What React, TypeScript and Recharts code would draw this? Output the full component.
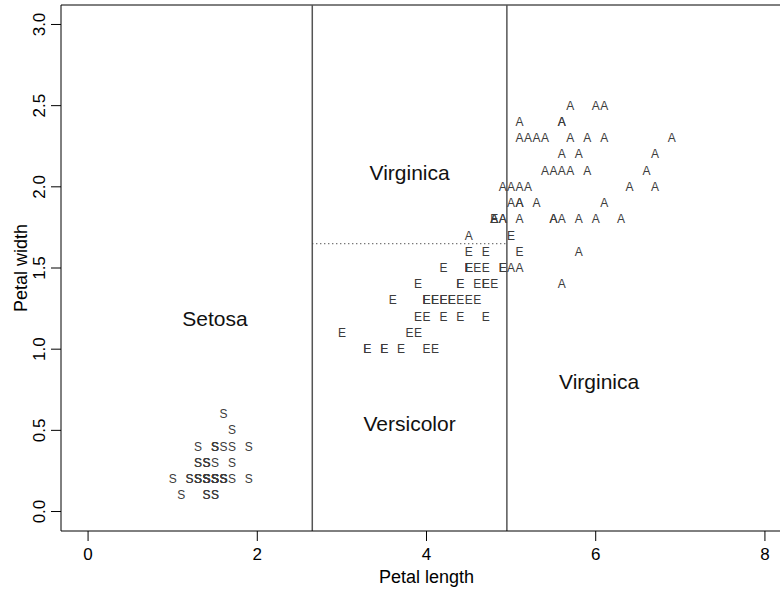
import React from 'react';
import { ScatterChart, Scatter, XAxis, YAxis, ReferenceLine } from 'recharts';

// iris petal measurements, read per species
const setosaLength = [1.4, 1.4, 1.3, 1.5, 1.4, 1.7, 1.4, 1.5, 1.4, 1.5, 1.5, 1.6, 1.4, 1.1, 1.2, 1.5, 1.3, 1.4, 1.7, 1.5, 1.7, 1.5, 1.0, 1.7, 1.9, 1.6, 1.6, 1.5, 1.4, 1.6, 1.6, 1.5, 1.5, 1.4, 1.5, 1.2, 1.3, 1.4, 1.3, 1.5, 1.3, 1.3, 1.3, 1.6, 1.9, 1.4, 1.6, 1.4, 1.5, 1.4];
const setosaWidth = [0.2, 0.2, 0.2, 0.2, 0.2, 0.4, 0.3, 0.2, 0.2, 0.1, 0.2, 0.2, 0.1, 0.1, 0.2, 0.4, 0.4, 0.3, 0.3, 0.3, 0.2, 0.4, 0.2, 0.5, 0.2, 0.2, 0.4, 0.2, 0.2, 0.2, 0.2, 0.4, 0.1, 0.2, 0.2, 0.2, 0.2, 0.1, 0.2, 0.2, 0.3, 0.3, 0.2, 0.6, 0.4, 0.3, 0.2, 0.2, 0.2, 0.2];

const versicolorLength = [4.7, 4.5, 4.9, 4.0, 4.6, 4.5, 4.7, 3.3, 4.6, 3.9, 3.5, 4.2, 4.0, 4.7, 3.6, 4.4, 4.5, 4.1, 4.5, 3.9, 4.8, 4.0, 4.9, 4.7, 4.3, 4.4, 4.8, 5.0, 4.5, 3.5, 3.8, 3.7, 3.9, 5.1, 4.5, 4.5, 4.7, 4.4, 4.1, 4.0, 4.4, 4.6, 4.0, 3.3, 4.2, 4.2, 4.2, 4.3, 3.0, 4.1];
const versicolorWidth = [1.4, 1.5, 1.5, 1.3, 1.5, 1.3, 1.6, 1.0, 1.3, 1.4, 1.0, 1.5, 1.0, 1.4, 1.3, 1.4, 1.5, 1.0, 1.5, 1.1, 1.8, 1.3, 1.5, 1.2, 1.3, 1.4, 1.4, 1.7, 1.5, 1.0, 1.1, 1.0, 1.2, 1.6, 1.5, 1.6, 1.5, 1.3, 1.3, 1.3, 1.2, 1.4, 1.2, 1.0, 1.3, 1.2, 1.3, 1.3, 1.1, 1.3];

const virginicaLength = [6.0, 5.1, 5.9, 5.6, 5.8, 6.6, 4.5, 6.3, 5.8, 6.1, 5.1, 5.3, 5.5, 5.0, 5.1, 5.3, 5.5, 6.7, 6.9, 5.0, 5.7, 4.9, 6.7, 4.9, 5.7, 6.0, 4.8, 4.9, 5.6, 5.8, 6.1, 6.4, 5.6, 5.1, 5.6, 6.1, 5.6, 5.5, 4.8, 5.4, 5.6, 5.1, 5.1, 5.9, 5.7, 5.2, 5.0, 5.2, 5.4, 5.1];
const virginicaWidth = [2.5, 1.9, 2.1, 1.8, 2.2, 2.1, 1.7, 1.8, 1.8, 2.5, 2.0, 1.9, 2.1, 2.0, 2.4, 2.3, 1.8, 2.2, 2.3, 1.5, 2.3, 2.0, 2.0, 1.8, 2.1, 1.8, 1.8, 1.8, 2.1, 1.6, 1.9, 2.0, 2.2, 1.5, 1.4, 2.3, 2.4, 1.8, 1.8, 2.1, 2.4, 2.3, 1.9, 2.3, 2.5, 2.3, 1.9, 2.0, 2.3, 1.8];

// partition boundaries and region names
const lengthSplits = [2.65, 4.95];
const widthSplit = 1.65;
const regionNames = ['Setosa', 'Versicolor', 'Virginica', 'Virginica'];
const regionX = [1.5, 3.8, 3.8, 6.04];
const regionY = [1.19, 0.54, 2.09, 0.8];

const xTicks = [0, 2, 4, 6, 8];
const yTicks = [0, 0.5, 1, 1.5, 2, 2.5, 3];

const FONT = '"Liberation Sans", Arial, Helvetica, sans-serif';

const zip = (xs: number[], ys: number[]) => xs.map((x, i) => ({ x, y: ys[i] }));
const setosa = zip(setosaLength, setosaWidth);
const versicolor = zip(versicolorLength, versicolorWidth);
const virginica = zip(virginicaLength, virginicaWidth);
const regions = regionNames.map((name, i) => ({ x: regionX[i], y: regionY[i], name }));

const letter = (ch: string) => (props: any) => (
  <text
    x={props.cx}
    y={props.cy}
    textAnchor="middle"
    dominantBaseline="central"
    fontSize={12}
    fontFamily={FONT}
    fill="#3c3c3c"
  >
    {ch}
  </text>
);

const regionShape = (props: any) => (
  <text
    x={props.cx}
    y={props.cy}
    textAnchor="middle"
    dominantBaseline="central"
    fontSize={21}
    fontFamily={FONT}
    fill="#111"
  >
    {props.payload.name}
  </text>
);

const YTick = (props: any) => {
  const { x, y, payload } = props;
  return (
    <text
      x={x}
      y={y}
      transform={`rotate(-90 ${x} ${y})`}
      textAnchor="middle"
      fontSize={17}
      fontFamily={FONT}
      fill="#000"
    >
      {Number(payload.value).toFixed(1)}
    </text>
  );
};

export default function App() {
  return (
    <div style={{ width: 780, height: 590, overflow: 'hidden', background: '#fff' }}>
      <style>{'body{margin:0}'}</style>
      <ScatterChart width={800} height={590} margin={{ top: 5, right: 8, bottom: 0, left: 0 }}>
        <XAxis
          type="number"
          dataKey="x"
          domain={[-0.32, 8.32]}
          ticks={xTicks}
          allowDataOverflow
          height={59}
          tickSize={10}
          tickMargin={7}
          stroke="#000"
          tick={{ fontSize: 17, fontFamily: FONT, fill: '#000' }}
          label={{
            content: (p: any) => {
              const vb = p.viewBox || { x: 61, y: 531, width: 731 };
              return (
                <text x={vb.x + vb.width / 2} y={vb.y + 52} textAnchor="middle" fontSize={18} fontFamily={FONT} fill="#000">
                  Petal length
                </text>
              );
            },
          }}
        />
        <YAxis
          type="number"
          dataKey="y"
          domain={[-0.12, 3.12]}
          ticks={yTicks}
          allowDataOverflow
          width={61}
          tickSize={10}
          tickMargin={6}
          stroke="#000"
          tick={<YTick />}
          label={{
            content: (p: any) => {
              const vb = p.viewBox || { x: 0, y: 5, height: 526 };
              const cx = vb.x + 27;
              const cy = vb.y + vb.height / 2;
              return (
                <text x={cx} y={cy} transform={`rotate(-90 ${cx} ${cy})`} textAnchor="middle" fontSize={18} fontFamily={FONT} fill="#000">
                  Petal width
                </text>
              );
            },
          }}
        />
        <ReferenceLine y={3.12} stroke="#000" strokeWidth={1} />
        {lengthSplits.map((v) => (
          <ReferenceLine key={v} x={v} stroke="#555" strokeWidth={1.5} />
        ))}
        <ReferenceLine
          segment={[
            { x: lengthSplits[0], y: widthSplit },
            { x: lengthSplits[1], y: widthSplit },
          ]}
          stroke="#444"
          strokeWidth={1.2}
          strokeDasharray="1 3"
        />
        <Scatter data={setosa} shape={letter('S')} isAnimationActive={false} />
        <Scatter data={versicolor} shape={letter('E')} isAnimationActive={false} />
        <Scatter data={virginica} shape={letter('A')} isAnimationActive={false} />
        <Scatter data={regions} shape={regionShape} isAnimationActive={false} />
      </ScatterChart>
    </div>
  );
}
